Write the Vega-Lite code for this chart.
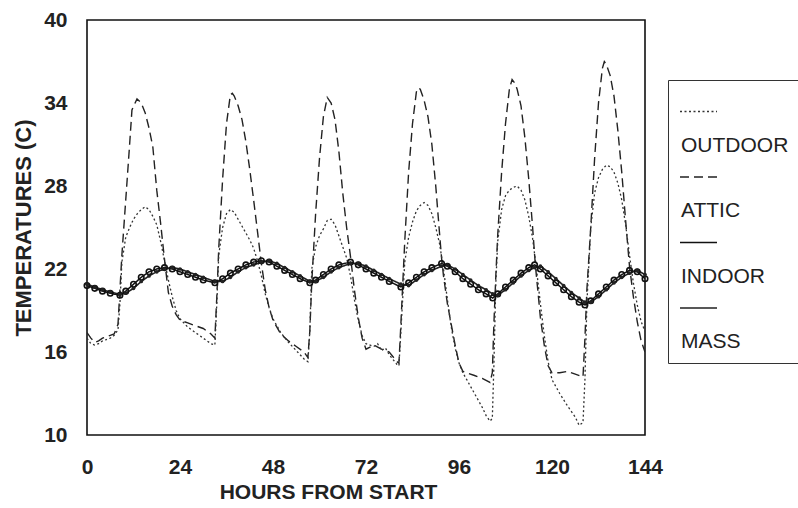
{
"$schema": "https://vega.github.io/schema/vega-lite/v6.json",
"width": 558, "height": 415,
"autosize": {"type": "none"},
"padding": {"left": 87, "top": 20, "right": 153, "bottom": 73},
"background": "white",
"config": {
  "view": {"stroke": "#111", "strokeWidth": 1.6},
  "axis": {"domain": false, "grid": false, "ticks": false, "labelFont": "Liberation Sans", "labelFontWeight": "bold", "labelFontSize": 21, "labelColor": "#222", "titleFont": "Liberation Sans", "titleFontWeight": "bold", "titleColor": "#222"},
  "legend": {"orient": "none", "legendX": 581, "legendY": 60, "direction": "vertical", "titleFontSize": 1, "titlePadding": 0, "padding": 11, "strokeColor": "#333", "fillColor": "white", "symbolType": "stroke", "symbolSize": 1369, "labelFont": "Liberation Sans", "labelFontSize": 21, "labelColor": "#222", "labelBaseline": "top", "labelOffset": -37, "rowPadding": 1.5, "labelLimit": 200}
},
"data": {"values": [
{"s":"ATTIC","h":0,"t":17.4},{"s":"ATTIC","h":1,"t":17.0},{"s":"ATTIC","h":2,"t":16.7},{"s":"ATTIC","h":3,"t":16.8},{"s":"ATTIC","h":4,"t":17.0},{"s":"ATTIC","h":5,"t":17.1},{"s":"ATTIC","h":6,"t":17.2},{"s":"ATTIC","h":7,"t":17.3},{"s":"ATTIC","h":8,"t":18.0},{"s":"ATTIC","h":8.5,"t":20.5},{"s":"ATTIC","h":9,"t":23.0},{"s":"ATTIC","h":10,"t":27.0},{"s":"ATTIC","h":11,"t":31.0},{"s":"ATTIC","h":11.6,"t":33.5},{"s":"ATTIC","h":12.9,"t":34.3},{"s":"ATTIC","h":14,"t":34.0},{"s":"ATTIC","h":15,"t":33.3},{"s":"ATTIC","h":16,"t":32.2},{"s":"ATTIC","h":17,"t":30.8},{"s":"ATTIC","h":18,"t":27.7},{"s":"ATTIC","h":19,"t":25.3},{"s":"ATTIC","h":20,"t":22.7},{"s":"ATTIC","h":21,"t":20.3},{"s":"ATTIC","h":22,"t":19.3},{"s":"ATTIC","h":23,"t":18.7},{"s":"ATTIC","h":24,"t":18.3},{"s":"ATTIC","h":26,"t":18.1},{"s":"ATTIC","h":28,"t":17.9},{"s":"ATTIC","h":30,"t":17.7},{"s":"ATTIC","h":32,"t":17.3},{"s":"ATTIC","h":33,"t":17.0},{"s":"ATTIC","h":33.5,"t":20.0},{"s":"ATTIC","h":34,"t":23.5},{"s":"ATTIC","h":35,"t":28.5},{"s":"ATTIC","h":36,"t":32.5},{"s":"ATTIC","h":37,"t":34.6},{"s":"ATTIC","h":37.5,"t":34.7},{"s":"ATTIC","h":38,"t":34.5},{"s":"ATTIC","h":39,"t":33.8},{"s":"ATTIC","h":40,"t":32.8},{"s":"ATTIC","h":41,"t":31.2},{"s":"ATTIC","h":42,"t":29.2},{"s":"ATTIC","h":43,"t":27.0},{"s":"ATTIC","h":44,"t":24.7},{"s":"ATTIC","h":45,"t":22.4},{"s":"ATTIC","h":46,"t":20.5},{"s":"ATTIC","h":47,"t":19.2},{"s":"ATTIC","h":48,"t":18.3},{"s":"ATTIC","h":50,"t":17.3},{"s":"ATTIC","h":52,"t":16.8},{"s":"ATTIC","h":54,"t":16.4},{"s":"ATTIC","h":56,"t":16.0},{"s":"ATTIC","h":57,"t":15.6},{"s":"ATTIC","h":57.5,"t":17.5},{"s":"ATTIC","h":58,"t":21.0},{"s":"ATTIC","h":59,"t":26.0},{"s":"ATTIC","h":60,"t":30.0},{"s":"ATTIC","h":61,"t":33.0},{"s":"ATTIC","h":62,"t":34.4},{"s":"ATTIC","h":63,"t":34.0},{"s":"ATTIC","h":64,"t":32.8},{"s":"ATTIC","h":65,"t":30.5},{"s":"ATTIC","h":66,"t":27.5},{"s":"ATTIC","h":67,"t":25.0},{"s":"ATTIC","h":68,"t":22.9},{"s":"ATTIC","h":69,"t":20.5},{"s":"ATTIC","h":70,"t":18.5},{"s":"ATTIC","h":71,"t":17.0},{"s":"ATTIC","h":72,"t":16.2},{"s":"ATTIC","h":74,"t":16.5},{"s":"ATTIC","h":76,"t":16.2},{"s":"ATTIC","h":78,"t":16.0},{"s":"ATTIC","h":80,"t":15.3},{"s":"ATTIC","h":80.5,"t":15.2},{"s":"ATTIC","h":81,"t":18.0},{"s":"ATTIC","h":81.5,"t":21.0},{"s":"ATTIC","h":82,"t":24.0},{"s":"ATTIC","h":83,"t":29.0},{"s":"ATTIC","h":84,"t":32.5},{"s":"ATTIC","h":85,"t":34.8},{"s":"ATTIC","h":85.5,"t":35.1},{"s":"ATTIC","h":86,"t":35.0},{"s":"ATTIC","h":87,"t":34.2},{"s":"ATTIC","h":88,"t":33.0},{"s":"ATTIC","h":89,"t":31.0},{"s":"ATTIC","h":90,"t":28.0},{"s":"ATTIC","h":91,"t":24.5},{"s":"ATTIC","h":91.5,"t":22.8},{"s":"ATTIC","h":92,"t":21.5},{"s":"ATTIC","h":93,"t":19.5},{"s":"ATTIC","h":94,"t":18.0},{"s":"ATTIC","h":95,"t":16.5},{"s":"ATTIC","h":96,"t":15.2},{"s":"ATTIC","h":97,"t":14.6},{"s":"ATTIC","h":98,"t":14.5},{"s":"ATTIC","h":100,"t":14.3},{"s":"ATTIC","h":102,"t":14.1},{"s":"ATTIC","h":104,"t":13.8},{"s":"ATTIC","h":104.6,"t":14.5},{"s":"ATTIC","h":105,"t":18.0},{"s":"ATTIC","h":105.5,"t":21.5},{"s":"ATTIC","h":106,"t":24.5},{"s":"ATTIC","h":107,"t":29.0},{"s":"ATTIC","h":108,"t":32.5},{"s":"ATTIC","h":109,"t":35.0},{"s":"ATTIC","h":109.7,"t":35.7},{"s":"ATTIC","h":110.5,"t":35.4},{"s":"ATTIC","h":111,"t":35.0},{"s":"ATTIC","h":112,"t":33.8},{"s":"ATTIC","h":113,"t":31.5},{"s":"ATTIC","h":114,"t":28.5},{"s":"ATTIC","h":115,"t":25.0},{"s":"ATTIC","h":115.7,"t":22.3},{"s":"ATTIC","h":116.5,"t":20.0},{"s":"ATTIC","h":117,"t":18.5},{"s":"ATTIC","h":118,"t":16.5},{"s":"ATTIC","h":119,"t":15.0},{"s":"ATTIC","h":120,"t":14.5},{"s":"ATTIC","h":122,"t":14.5},{"s":"ATTIC","h":124,"t":14.6},{"s":"ATTIC","h":126,"t":14.4},{"s":"ATTIC","h":128,"t":14.2},{"s":"ATTIC","h":128.5,"t":17.0},{"s":"ATTIC","h":129,"t":20.5},{"s":"ATTIC","h":130,"t":25.0},{"s":"ATTIC","h":131,"t":30.0},{"s":"ATTIC","h":132,"t":34.0},{"s":"ATTIC","h":133,"t":36.5},{"s":"ATTIC","h":133.5,"t":37.0},{"s":"ATTIC","h":134,"t":36.8},{"s":"ATTIC","h":135,"t":36.0},{"s":"ATTIC","h":136,"t":34.5},{"s":"ATTIC","h":137,"t":32.0},{"s":"ATTIC","h":138,"t":29.0},{"s":"ATTIC","h":139,"t":25.5},{"s":"ATTIC","h":140,"t":22.2},{"s":"ATTIC","h":141,"t":20.0},{"s":"ATTIC","h":142,"t":18.2},{"s":"ATTIC","h":143,"t":16.8},{"s":"ATTIC","h":144,"t":16.0},
{"s":"OUTDOOR","h":0,"t":17.0},{"s":"OUTDOOR","h":1,"t":16.6},{"s":"OUTDOOR","h":2,"t":16.5},{"s":"OUTDOOR","h":3,"t":16.6},{"s":"OUTDOOR","h":4,"t":16.8},{"s":"OUTDOOR","h":5,"t":16.9},{"s":"OUTDOOR","h":6,"t":17.0},{"s":"OUTDOOR","h":7,"t":17.2},{"s":"OUTDOOR","h":8,"t":17.6},{"s":"OUTDOOR","h":8.5,"t":19.5},{"s":"OUTDOOR","h":9,"t":22.5},{"s":"OUTDOOR","h":10,"t":24.3},{"s":"OUTDOOR","h":11,"t":25.0},{"s":"OUTDOOR","h":12,"t":25.6},{"s":"OUTDOOR","h":13,"t":26.0},{"s":"OUTDOOR","h":14,"t":26.3},{"s":"OUTDOOR","h":15,"t":26.5},{"s":"OUTDOOR","h":16,"t":26.3},{"s":"OUTDOOR","h":17,"t":25.8},{"s":"OUTDOOR","h":18,"t":25.2},{"s":"OUTDOOR","h":19,"t":24.0},{"s":"OUTDOOR","h":20,"t":22.6},{"s":"OUTDOOR","h":21,"t":21.2},{"s":"OUTDOOR","h":22,"t":20.0},{"s":"OUTDOOR","h":23,"t":19.0},{"s":"OUTDOOR","h":24,"t":18.4},{"s":"OUTDOOR","h":26,"t":17.8},{"s":"OUTDOOR","h":28,"t":17.4},{"s":"OUTDOOR","h":30,"t":17.0},{"s":"OUTDOOR","h":32,"t":16.6},{"s":"OUTDOOR","h":33,"t":16.5},{"s":"OUTDOOR","h":33.5,"t":19.5},{"s":"OUTDOOR","h":34,"t":23.0},{"s":"OUTDOOR","h":35,"t":25.0},{"s":"OUTDOOR","h":36,"t":26.0},{"s":"OUTDOOR","h":37,"t":26.3},{"s":"OUTDOOR","h":38,"t":26.1},{"s":"OUTDOOR","h":39,"t":25.6},{"s":"OUTDOOR","h":40,"t":25.1},{"s":"OUTDOOR","h":41,"t":24.6},{"s":"OUTDOOR","h":42,"t":24.1},{"s":"OUTDOOR","h":43,"t":23.5},{"s":"OUTDOOR","h":44,"t":22.6},{"s":"OUTDOOR","h":45,"t":21.5},{"s":"OUTDOOR","h":46,"t":20.2},{"s":"OUTDOOR","h":47,"t":19.2},{"s":"OUTDOOR","h":48,"t":18.4},{"s":"OUTDOOR","h":50,"t":17.4},{"s":"OUTDOOR","h":52,"t":16.7},{"s":"OUTDOOR","h":54,"t":16.1},{"s":"OUTDOOR","h":56,"t":15.5},{"s":"OUTDOOR","h":57,"t":15.3},{"s":"OUTDOOR","h":57.5,"t":17.5},{"s":"OUTDOOR","h":58,"t":22.0},{"s":"OUTDOOR","h":59,"t":23.6},{"s":"OUTDOOR","h":60,"t":24.4},{"s":"OUTDOOR","h":61,"t":24.9},{"s":"OUTDOOR","h":62,"t":25.5},{"s":"OUTDOOR","h":63,"t":25.6},{"s":"OUTDOOR","h":64,"t":25.2},{"s":"OUTDOOR","h":65,"t":24.4},{"s":"OUTDOOR","h":66,"t":23.6},{"s":"OUTDOOR","h":67,"t":22.8},{"s":"OUTDOOR","h":68,"t":21.5},{"s":"OUTDOOR","h":69,"t":19.8},{"s":"OUTDOOR","h":70,"t":18.3},{"s":"OUTDOOR","h":71,"t":17.2},{"s":"OUTDOOR","h":72,"t":16.6},{"s":"OUTDOOR","h":74,"t":16.4},{"s":"OUTDOOR","h":75,"t":16.6},{"s":"OUTDOOR","h":76,"t":16.1},{"s":"OUTDOOR","h":77,"t":16.3},{"s":"OUTDOOR","h":78,"t":15.8},{"s":"OUTDOOR","h":80,"t":15.1},{"s":"OUTDOOR","h":80.5,"t":15.0},{"s":"OUTDOOR","h":81,"t":17.5},{"s":"OUTDOOR","h":82,"t":22.5},{"s":"OUTDOOR","h":83,"t":24.3},{"s":"OUTDOOR","h":84,"t":25.4},{"s":"OUTDOOR","h":85,"t":26.2},{"s":"OUTDOOR","h":86,"t":26.6},{"s":"OUTDOOR","h":87,"t":26.8},{"s":"OUTDOOR","h":88,"t":26.6},{"s":"OUTDOOR","h":89,"t":26.0},{"s":"OUTDOOR","h":90,"t":25.0},{"s":"OUTDOOR","h":91,"t":23.8},{"s":"OUTDOOR","h":92,"t":22.0},{"s":"OUTDOOR","h":93,"t":19.8},{"s":"OUTDOOR","h":94,"t":17.8},{"s":"OUTDOOR","h":95,"t":16.3},{"s":"OUTDOOR","h":96,"t":15.2},{"s":"OUTDOOR","h":97,"t":14.5},{"s":"OUTDOOR","h":98,"t":14.0},{"s":"OUTDOOR","h":100,"t":13.0},{"s":"OUTDOOR","h":102,"t":12.0},{"s":"OUTDOOR","h":103,"t":11.4},{"s":"OUTDOOR","h":104,"t":11.0},{"s":"OUTDOOR","h":104.6,"t":11.2},{"s":"OUTDOOR","h":105,"t":15.0},{"s":"OUTDOOR","h":105.5,"t":21.0},{"s":"OUTDOOR","h":106,"t":24.0},{"s":"OUTDOOR","h":107,"t":26.3},{"s":"OUTDOOR","h":108,"t":27.3},{"s":"OUTDOOR","h":109,"t":27.7},{"s":"OUTDOOR","h":110,"t":27.9},{"s":"OUTDOOR","h":111,"t":28.0},{"s":"OUTDOOR","h":112,"t":27.7},{"s":"OUTDOOR","h":113,"t":27.0},{"s":"OUTDOOR","h":114,"t":25.8},{"s":"OUTDOOR","h":115,"t":24.2},{"s":"OUTDOOR","h":116,"t":22.0},{"s":"OUTDOOR","h":117,"t":19.5},{"s":"OUTDOOR","h":118,"t":17.2},{"s":"OUTDOOR","h":119,"t":15.3},{"s":"OUTDOOR","h":120,"t":14.0},{"s":"OUTDOOR","h":122,"t":13.0},{"s":"OUTDOOR","h":124,"t":12.1},{"s":"OUTDOOR","h":126,"t":11.3},{"s":"OUTDOOR","h":127,"t":10.7},{"s":"OUTDOOR","h":128,"t":10.9},{"s":"OUTDOOR","h":128.5,"t":14.0},{"s":"OUTDOOR","h":129,"t":19.5},{"s":"OUTDOOR","h":130,"t":25.0},{"s":"OUTDOOR","h":131,"t":27.5},{"s":"OUTDOOR","h":132,"t":28.6},{"s":"OUTDOOR","h":133,"t":29.2},{"s":"OUTDOOR","h":134,"t":29.5},{"s":"OUTDOOR","h":135,"t":29.4},{"s":"OUTDOOR","h":136,"t":29.0},{"s":"OUTDOOR","h":137,"t":28.2},{"s":"OUTDOOR","h":138,"t":27.0},{"s":"OUTDOOR","h":139,"t":25.2},{"s":"OUTDOOR","h":140,"t":23.0},{"s":"OUTDOOR","h":141,"t":21.0},{"s":"OUTDOOR","h":142,"t":19.4},{"s":"OUTDOOR","h":143,"t":18.2},{"s":"OUTDOOR","h":144,"t":17.5},
{"s":"INDOOR","h":0,"t":20.8},{"s":"INDOOR","h":2,"t":20.6},{"s":"INDOOR","h":4,"t":20.4},{"s":"INDOOR","h":6,"t":20.25},{"s":"INDOOR","h":8.5,"t":20.1},{"s":"INDOOR","h":10,"t":20.4},{"s":"INDOOR","h":12,"t":20.9},{"s":"INDOOR","h":14,"t":21.4},{"s":"INDOOR","h":16,"t":21.8},{"s":"INDOOR","h":18,"t":22.0},{"s":"INDOOR","h":20,"t":22.1},{"s":"INDOOR","h":22,"t":22.0},{"s":"INDOOR","h":24,"t":21.8},{"s":"INDOOR","h":26,"t":21.6},{"s":"INDOOR","h":28,"t":21.4},{"s":"INDOOR","h":30,"t":21.2},{"s":"INDOOR","h":33,"t":21.0},{"s":"INDOOR","h":35,"t":21.3},{"s":"INDOOR","h":37,"t":21.7},{"s":"INDOOR","h":39,"t":22.0},{"s":"INDOOR","h":41,"t":22.3},{"s":"INDOOR","h":43,"t":22.5},{"s":"INDOOR","h":45,"t":22.6},{"s":"INDOOR","h":47,"t":22.5},{"s":"INDOOR","h":49,"t":22.2},{"s":"INDOOR","h":51,"t":21.9},{"s":"INDOOR","h":53,"t":21.6},{"s":"INDOOR","h":55,"t":21.3},{"s":"INDOOR","h":57.5,"t":21.0},{"s":"INDOOR","h":59,"t":21.2},{"s":"INDOOR","h":61,"t":21.6},{"s":"INDOOR","h":63,"t":22.0},{"s":"INDOOR","h":65,"t":22.3},{"s":"INDOOR","h":68,"t":22.5},{"s":"INDOOR","h":70,"t":22.3},{"s":"INDOOR","h":72,"t":22.0},{"s":"INDOOR","h":74,"t":21.7},{"s":"INDOOR","h":76,"t":21.4},{"s":"INDOOR","h":78,"t":21.1},{"s":"INDOOR","h":81,"t":20.7},{"s":"INDOOR","h":83,"t":21.0},{"s":"INDOOR","h":85,"t":21.4},{"s":"INDOOR","h":87,"t":21.8},{"s":"INDOOR","h":89,"t":22.1},{"s":"INDOOR","h":91.5,"t":22.4},{"s":"INDOOR","h":93,"t":22.2},{"s":"INDOOR","h":95,"t":21.8},{"s":"INDOOR","h":97,"t":21.3},{"s":"INDOOR","h":99,"t":20.9},{"s":"INDOOR","h":101,"t":20.5},{"s":"INDOOR","h":103,"t":20.2},{"s":"INDOOR","h":104.7,"t":19.9},{"s":"INDOOR","h":106,"t":20.2},{"s":"INDOOR","h":108,"t":20.7},{"s":"INDOOR","h":110,"t":21.2},{"s":"INDOOR","h":112,"t":21.7},{"s":"INDOOR","h":114,"t":22.1},{"s":"INDOOR","h":115.5,"t":22.3},{"s":"INDOOR","h":117,"t":22.0},{"s":"INDOOR","h":119,"t":21.5},{"s":"INDOOR","h":121,"t":21.0},{"s":"INDOOR","h":123,"t":20.5},{"s":"INDOOR","h":125,"t":20.0},{"s":"INDOOR","h":127,"t":19.6},{"s":"INDOOR","h":128.5,"t":19.4},{"s":"INDOOR","h":130,"t":19.7},{"s":"INDOOR","h":132,"t":20.2},{"s":"INDOOR","h":134,"t":20.7},{"s":"INDOOR","h":136,"t":21.2},{"s":"INDOOR","h":138,"t":21.6},{"s":"INDOOR","h":140,"t":21.9},{"s":"INDOOR","h":142,"t":21.8},{"s":"INDOOR","h":144,"t":21.3},
{"s":"MASS","h":0,"t":20.9},{"s":"MASS","h":2,"t":20.7},{"s":"MASS","h":4,"t":20.5},{"s":"MASS","h":6,"t":20.35},{"s":"MASS","h":8.5,"t":20.15},{"s":"MASS","h":10,"t":20.25},{"s":"MASS","h":12,"t":20.6},{"s":"MASS","h":14,"t":21.1},{"s":"MASS","h":16,"t":21.5},{"s":"MASS","h":18,"t":21.8},{"s":"MASS","h":20,"t":22.0},{"s":"MASS","h":22,"t":22.1},{"s":"MASS","h":24,"t":22.0},{"s":"MASS","h":26,"t":21.8},{"s":"MASS","h":28,"t":21.6},{"s":"MASS","h":30,"t":21.4},{"s":"MASS","h":33,"t":21.1},{"s":"MASS","h":35,"t":21.1},{"s":"MASS","h":37,"t":21.4},{"s":"MASS","h":39,"t":21.8},{"s":"MASS","h":41,"t":22.1},{"s":"MASS","h":43,"t":22.3},{"s":"MASS","h":45,"t":22.5},{"s":"MASS","h":47,"t":22.6},{"s":"MASS","h":49,"t":22.4},{"s":"MASS","h":51,"t":22.1},{"s":"MASS","h":53,"t":21.8},{"s":"MASS","h":55,"t":21.5},{"s":"MASS","h":57.5,"t":21.1},{"s":"MASS","h":59,"t":21.1},{"s":"MASS","h":61,"t":21.4},{"s":"MASS","h":63,"t":21.8},{"s":"MASS","h":65,"t":22.1},{"s":"MASS","h":68,"t":22.4},{"s":"MASS","h":70,"t":22.4},{"s":"MASS","h":72,"t":22.2},{"s":"MASS","h":74,"t":21.9},{"s":"MASS","h":76,"t":21.6},{"s":"MASS","h":78,"t":21.3},{"s":"MASS","h":81,"t":20.9},{"s":"MASS","h":83,"t":20.8},{"s":"MASS","h":85,"t":21.2},{"s":"MASS","h":87,"t":21.6},{"s":"MASS","h":89,"t":21.9},{"s":"MASS","h":91.5,"t":22.2},{"s":"MASS","h":93,"t":22.3},{"s":"MASS","h":95,"t":22.0},{"s":"MASS","h":97,"t":21.6},{"s":"MASS","h":99,"t":21.2},{"s":"MASS","h":101,"t":20.8},{"s":"MASS","h":103,"t":20.5},{"s":"MASS","h":104.7,"t":20.2},{"s":"MASS","h":106,"t":20.1},{"s":"MASS","h":108,"t":20.5},{"s":"MASS","h":110,"t":21.0},{"s":"MASS","h":112,"t":21.5},{"s":"MASS","h":114,"t":21.9},{"s":"MASS","h":115.5,"t":22.1},{"s":"MASS","h":117,"t":22.2},{"s":"MASS","h":119,"t":21.8},{"s":"MASS","h":121,"t":21.3},{"s":"MASS","h":123,"t":20.8},{"s":"MASS","h":125,"t":20.3},{"s":"MASS","h":127,"t":19.9},{"s":"MASS","h":128.5,"t":19.6},{"s":"MASS","h":130,"t":19.6},{"s":"MASS","h":132,"t":20.0},{"s":"MASS","h":134,"t":20.5},{"s":"MASS","h":136,"t":21.0},{"s":"MASS","h":138,"t":21.4},{"s":"MASS","h":140,"t":21.7},{"s":"MASS","h":142,"t":21.9},{"s":"MASS","h":144,"t":21.6}
]},
"encoding": {
  "x": {"field": "h", "type": "quantitative", "scale": {"domain": [0, 144], "nice": false},
        "axis": {"values": [0, 24, 48, 72, 96, 120, 144], "labelFlush": false, "labelPadding": 21, "title": "HOURS FROM START", "titleFontSize": 21, "titleX": 241, "titleAnchor": "middle", "titlePadding": 4}},
  "y": {"field": "t", "type": "quantitative", "scale": {"domain": [10, 40], "nice": false, "zero": false},
        "axis": {"values": [10, 16, 22, 28, 34, 40], "labelPadding": 20, "title": "TEMPERATURES (C)", "titleFontSize": 22, "titlePadding": 8}}
},
"layer": [
  {
    "mark": {"type": "line", "clip": true},
    "encoding": {
      "color": {"field": "s", "type": "nominal", "title": " ", "scale": {"domain": ["OUTDOOR", "ATTIC", "INDOOR", "MASS"], "range": ["#333333", "#222222", "#111111", "#222222"]},
        "legend": {"labelExpr": "['', datum.label]"}},
      "strokeDash": {"field": "s", "type": "nominal", "title": " ", "scale": {"domain": ["OUTDOOR", "ATTIC", "INDOOR", "MASS"], "range": [[2, 2.5], [9, 5], [1, 0], [1, 0]]},
        "legend": {"labelExpr": "['', datum.label]"}},
      "strokeWidth": {"field": "s", "type": "nominal", "title": " ", "scale": {"domain": ["OUTDOOR", "ATTIC", "INDOOR", "MASS"], "range": [1.3, 1.6, 3.6, 2.4]},
        "legend": {"labelExpr": "['', datum.label]"}},
      "order": {"field": "h", "type": "quantitative"}
    }
  },
  {
    "transform": [{"filter": "datum.s == 'INDOOR'"}],
    "mark": {"type": "point", "filled": false, "size": 30, "strokeWidth": 1.6, "color": "#111111", "opacity": 1}
  },
  {
    "transform": [{"filter": "datum.s == 'MASS'"}],
    "mark": {"type": "point", "filled": true, "size": 14, "color": "#222222", "opacity": 1}
  }
]
}
